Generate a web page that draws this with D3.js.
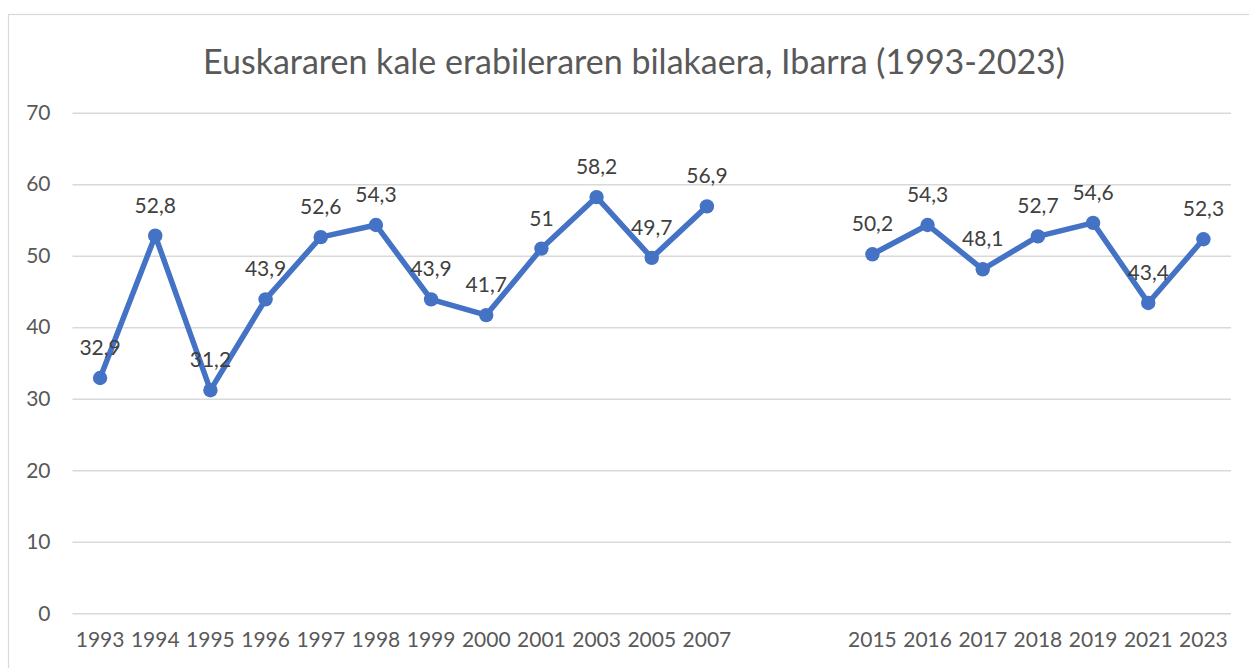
<!DOCTYPE html>
<html>
<head>
<meta charset="utf-8">
<script src="https://cdn.jsdelivr.net/npm/d3@7/dist/d3.min.js"></script>
<style>
  html, body { margin: 0; padding: 0; background: #ffffff; }
  svg { display: block; }
  text { font-family: Lato, "Open Sans", sans-serif; }
</style>
</head>
<body>
<svg id="chart" width="1249" height="668"></svg>
<script>
// ---- Data ----
const title = "Euskararen kale erabileraren bilakaera, Ibarra (1993-2023)";
const categories = ["1993","1994","1995","1996","1997","1998","1999","2000","2001","2003","2005","2007","","","2015","2016","2017","2018","2019","2021","2023"];
const values = [32.9, 52.8, 31.2, 43.9, 52.6, 54.3, 43.9, 41.7, 51, 58.2, 49.7, 56.9, null, null, 50.2, 54.3, 48.1, 52.7, 54.6, 43.4, 52.3];
const yTicks = [0, 10, 20, 30, 40, 50, 60, 70];

// ---- Layout ----
const W = 1249, H = 668;
const plot = { left: 72.5, right: 1231, top: 112.7, bottom: 613.3 };
const svg = d3.select("#chart");

// chart frame
svg.append("rect")
  .attr("x", 8.5).attr("y", 14.5)
  .attr("width", 1300).attr("height", 700)
  .attr("fill", "#ffffff").attr("stroke", "#d9d9d9").attr("stroke-width", 1.2);

const x = d3.scaleBand()
  .domain(d3.range(categories.length))
  .range([plot.left, plot.right])
  .paddingInner(0).paddingOuter(0);

const y = d3.scaleLinear().domain([0, 70]).range([plot.bottom, plot.top]);

const cx = i => x(i) + x.bandwidth() / 2;

// title
svg.append("text")
  .attr("x", 634).attr("y", 74)
  .attr("text-anchor", "middle")
  .attr("fill", "#595959")
  .style("font-size", "34px")
  .style("font-weight", 400)
  .text(title);

// y axis with gridlines
const yAxis = svg.append("g")
  .attr("transform", `translate(${plot.left},0)`)
  .call(d3.axisLeft(y).tickValues(yTicks).tickSize(-(plot.right - plot.left)).tickPadding(22).tickFormat(d3.format("d")));
yAxis.select(".domain").remove();
yAxis.selectAll(".tick line").attr("stroke", "#d9d9d9").attr("stroke-width", 1.5);
yAxis.selectAll(".tick text")
  .attr("fill", "#595959")
  .style("font-size", "21px");

// x axis
const xAxis = svg.append("g")
  .attr("transform", `translate(0,${plot.bottom})`)
  .call(d3.axisBottom(x).tickSize(0).tickPadding(19).tickFormat(i => categories[i]));
xAxis.select(".domain").remove();
xAxis.selectAll(".tick text")
  .attr("fill", "#595959")
  .style("font-size", "21px");

// line
const pts = values.map((v, i) => ({ i, v }));
const line = d3.line()
  .defined(d => d.v !== null)
  .x(d => cx(d.i))
  .y(d => y(d.v));

svg.append("path")
  .datum(pts)
  .attr("fill", "none")
  .attr("stroke", "#4472C4")
  .attr("stroke-width", 5.5)
  .attr("stroke-linejoin", "round")
  .attr("d", line);

const valid = pts.filter(d => d.v !== null);

svg.append("g").selectAll("circle")
  .data(valid)
  .join("circle")
  .attr("cx", d => cx(d.i))
  .attr("cy", d => y(d.v))
  .attr("r", 7.2)
  .attr("fill", "#4472C4");

// data labels
svg.append("g").selectAll("text")
  .data(valid)
  .join("text")
  .attr("x", d => cx(d.i))
  .attr("y", d => y(d.v) - 23)
  .attr("text-anchor", "middle")
  .attr("fill", "#404040")
  .style("font-size", "21px")
  .text(d => String(d.v).replace(".", ","));
</script>
</body>
</html>
